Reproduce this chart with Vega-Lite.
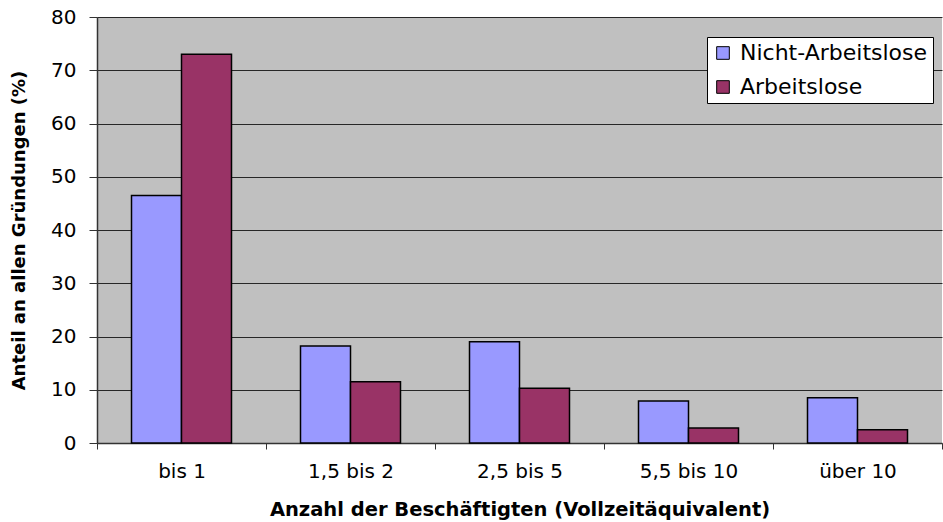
{
  "$schema": "https://vega.github.io/schema/vega-lite/v6.json",
  "width": 845,
  "height": 426,
  "autosize": {"type": "none"},
  "padding": {"left": 97, "top": 17, "right": 1, "bottom": 79},
  "background": "white",
  "config": {
    "font": "DejaVu Sans",
    "view": {"fill": "#C0C0C0", "stroke": null}
  },
  "data": {
    "values": [
      {"kat": "bis 1", "gruppe": "Nicht-Arbeitslose", "wert": 46.5},
      {"kat": "bis 1", "gruppe": "Arbeitslose", "wert": 73.0},
      {"kat": "1,5 bis 2", "gruppe": "Nicht-Arbeitslose", "wert": 18.2},
      {"kat": "1,5 bis 2", "gruppe": "Arbeitslose", "wert": 11.5},
      {"kat": "2,5 bis 5", "gruppe": "Nicht-Arbeitslose", "wert": 19.0},
      {"kat": "2,5 bis 5", "gruppe": "Arbeitslose", "wert": 10.3},
      {"kat": "5,5 bis 10", "gruppe": "Nicht-Arbeitslose", "wert": 7.9},
      {"kat": "5,5 bis 10", "gruppe": "Arbeitslose", "wert": 2.8},
      {"kat": "über 10", "gruppe": "Nicht-Arbeitslose", "wert": 8.5},
      {"kat": "über 10", "gruppe": "Arbeitslose", "wert": 2.5}
    ]
  },
  "mark": {"type": "bar", "stroke": "black", "strokeWidth": 1.5},
  "encoding": {
    "x": {
      "field": "kat",
      "type": "nominal",
      "sort": ["bis 1", "1,5 bis 2", "2,5 bis 5", "5,5 bis 10", "über 10"],
      "scale": {"paddingInner": 0, "paddingOuter": 0},
      "axis": {
        "title": "Anzahl der Beschäftigten (Vollzeitäquivalent)",
        "titleFontSize": 19.5,
        "titleFontWeight": "bold",
        "titleColor": "black",
        "titlePadding": 19,
        "labelAngle": 0,
        "labelFontSize": 20,
        "labelColor": "black",
        "labelPadding": 12,
        "tickBand": "extent",
        "tickColor": "#333333",
        "tickSize": 6,
        "domainColor": "#333333",
        "domainWidth": 1.5,
        "grid": false
      }
    },
    "xOffset": {
      "field": "gruppe",
      "type": "nominal",
      "sort": ["Nicht-Arbeitslose", "Arbeitslose"],
      "scale": {"paddingOuter": 0.69, "paddingInner": 0}
    },
    "y": {
      "field": "wert",
      "type": "quantitative",
      "scale": {"domain": [0, 80], "nice": false},
      "axis": {
        "title": "Anteil an allen Gründungen (%)",
        "titleFontSize": 18,
        "titleFontWeight": "bold",
        "titleColor": "black",
        "titlePadding": 22,
        "values": [0, 10, 20, 30, 40, 50, 60, 70, 80],
        "labelFontSize": 20,
        "labelColor": "black",
        "labelPadding": 13,
        "tickSize": 8,
        "tickColor": "#333333",
        "domainColor": "#333333",
        "domainWidth": 1.5,
        "grid": true,
        "gridColor": "black",
        "gridWidth": 1,
        "gridOpacity": 0.8
      }
    },
    "color": {
      "field": "gruppe",
      "type": "nominal",
      "sort": ["Nicht-Arbeitslose", "Arbeitslose"],
      "scale": {"domain": ["Nicht-Arbeitslose", "Arbeitslose"], "range": ["#9999FF", "#993366"]},
      "legend": {
        "title": null,
        "orient": "none",
        "legendX": 610,
        "legendY": 20,
        "fillColor": "white",
        "strokeColor": "black",
        "padding": 5,
        "symbolType": "square",
        "symbolSize": 160,
        "symbolStrokeColor": "black",
        "symbolStrokeWidth": 1,
        "labelFontSize": 22,
        "labelColor": "black",
        "labelLimit": 300,
        "labelOffset": 6,
        "rowPadding": 12
      }
    }
  }
}
